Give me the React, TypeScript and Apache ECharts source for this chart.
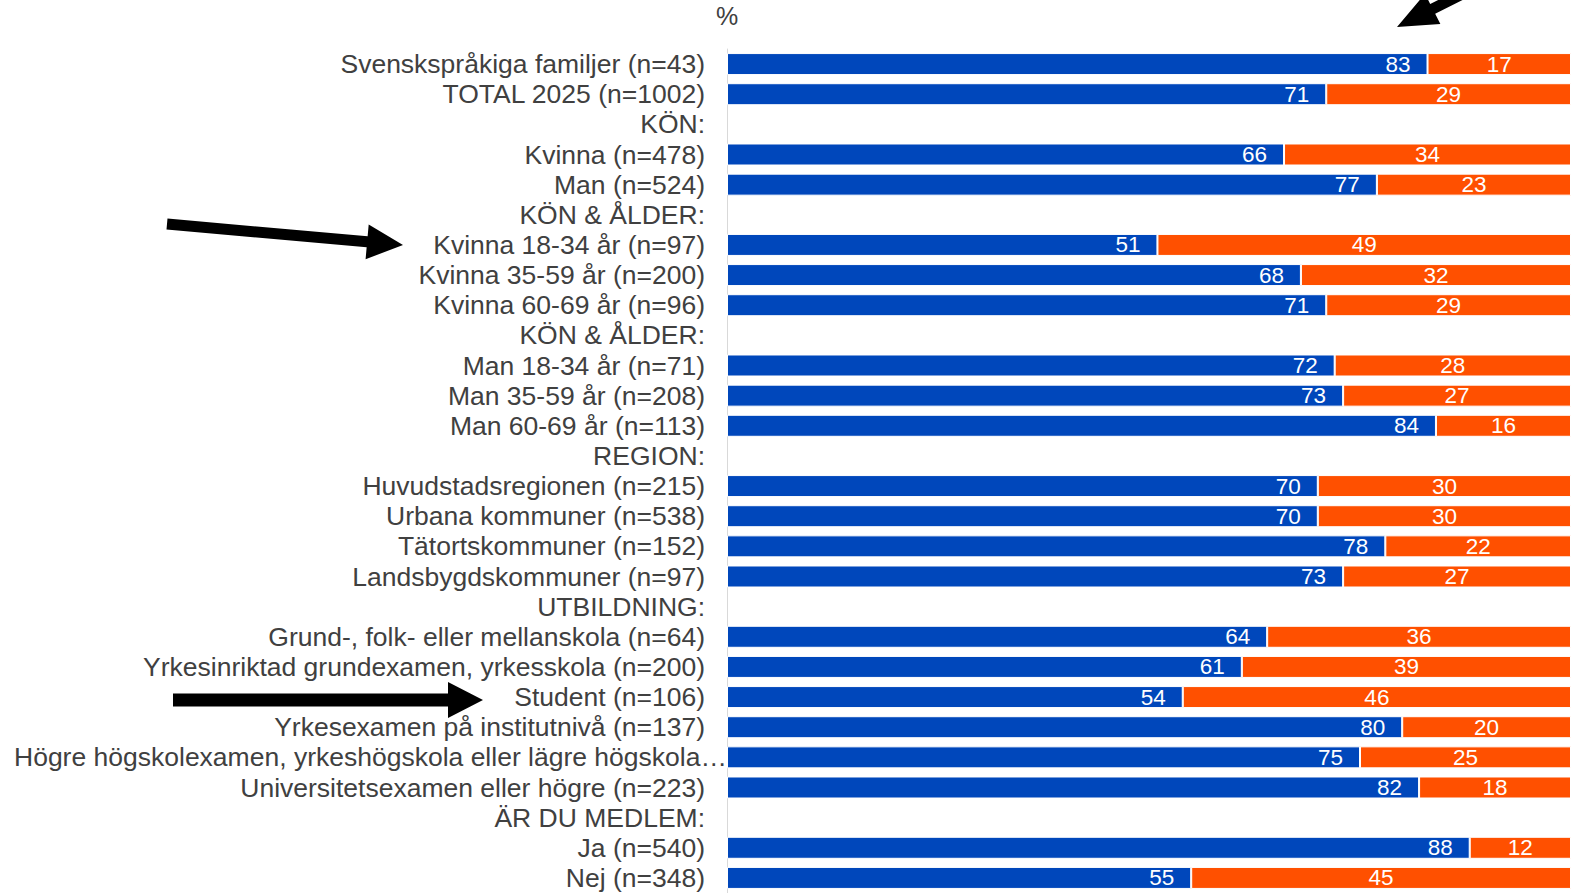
import React, { useEffect, useRef } from "react";
import * as echarts from "echarts";

const categories = [
  "Svenskspråkiga familjer (n=43)",
  "TOTAL 2025 (n=1002)",
  "KÖN:",
  "Kvinna (n=478)",
  "Man (n=524)",
  "KÖN & ÅLDER:",
  "Kvinna 18-34 år (n=97)",
  "Kvinna 35-59 år (n=200)",
  "Kvinna 60-69 år (n=96)",
  "KÖN & ÅLDER:\u200B",
  "Man 18-34 år (n=71)",
  "Man 35-59 år (n=208)",
  "Man 60-69 år (n=113)",
  "REGION:",
  "Huvudstadsregionen (n=215)",
  "Urbana kommuner (n=538)",
  "Tätortskommuner (n=152)",
  "Landsbygdskommuner (n=97)",
  "UTBILDNING:",
  "Grund-, folk- eller mellanskola (n=64)",
  "Yrkesinriktad grundexamen, yrkesskola (n=200)",
  "Student (n=106)",
  "Yrkesexamen på institutnivå (n=137)",
  "Högre högskolexamen, yrkeshögskola eller lägre högskola…",
  "Universitetsexamen eller högre (n=223)",
  "ÄR DU MEDLEM:",
  "Ja (n=540)",
  "Nej (n=348)",
];

const blueValues = [83, 71, null, 66, 77, null, 51, 68, 71, null, 72, 73, 84, null, 70, 70, 78, 73, null, 64, 61, 54, 80, 75, 82, null, 88, 55];
const orangeValues = [17, 29, null, 34, 23, null, 49, 32, 29, null, 28, 27, 16, null, 30, 30, 22, 27, null, 36, 39, 46, 20, 25, 18, null, 12, 45];

const FONT = "'Liberation Sans', Arial, sans-serif";

function arrow(x1: number, y1: number, x2: number, y2: number, shaft: number, headW: number, headL: number) {
  const dx = x2 - x1;
  const dy = y2 - y1;
  const len = Math.sqrt(dx * dx + dy * dy);
  const ux = dx / len;
  const uy = dy / len;
  const px = -uy;
  const py = ux;
  const bx = x2 - ux * headL;
  const by = y2 - uy * headL;
  const s = shaft / 2;
  const h = headW / 2;
  return {
    type: "polygon",
    shape: {
      points: [
        [x1 + px * s, y1 + py * s],
        [bx + px * s, by + py * s],
        [bx + px * h, by + py * h],
        [x2, y2],
        [bx - px * h, by - py * h],
        [bx - px * s, by - py * s],
        [x1 - px * s, y1 - py * s],
      ],
    },
    style: { fill: "#000000" },
    z: 100,
  };
}

export default function App() {
  const ref = useRef<HTMLDivElement>(null);
  useEffect(() => {
    if (!ref.current) return;
    const chart = echarts.init(ref.current, null, { renderer: "svg" });
    const labelCommon = {
      show: true,
      color: "#ffffff",
      fontSize: 22.5,
      fontFamily: FONT,
    };
    chart.setOption({
      animation: false,
      backgroundColor: "#ffffff",
      grid: { left: 727, right: 14, top: 49, bottom: 0, containLabel: false },
      xAxis: {
        type: "value",
        min: 0,
        max: 100,
        show: false,
      },
      yAxis: {
        type: "category",
        data: categories,
        inverse: true,
        axisTick: { show: false },
        axisLine: { show: true, lineStyle: { color: "#d9d9d9", width: 1 } },
        axisLabel: {
          interval: 0,
          hideOverlap: false,
          color: "#404040",
          fontSize: 26.5,
          fontFamily: FONT,
          margin: 22,
          formatter: (v: string) => (v.startsWith("Högre") ? "{long|" + v + "}" : v),
          rich: {
            long: { width: 691, align: "left", color: "#404040", fontSize: 26.5, fontFamily: FONT },
          },
        },
      },
      series: [
        {
          name: "Blå",
          type: "bar",
          stack: "total",
          data: blueValues,
          barCategoryGap: "27%",
          itemStyle: { color: "#0047BB", borderColor: "#ffffff", borderWidth: 1 },
          label: { ...labelCommon, position: "insideRight", distance: 17 },
        },
        {
          name: "Orange",
          type: "bar",
          stack: "total",
          data: orangeValues,
          barCategoryGap: "27%",
          itemStyle: { color: "#FF5000", borderColor: "#ffffff", borderWidth: 1 },
          label: { ...labelCommon, position: "inside" },
        },
      ],
      graphic: [
        {
          type: "text",
          x: 727,
          y: 16,
          style: { text: "%", fontSize: 25, fontFamily: FONT, fill: "#404040", align: "center", verticalAlign: "middle" },
        },
        arrow(167, 224, 403, 245, 11, 35, 36),
        arrow(173, 700, 483, 700, 13, 36, 35),
        arrow(1480, -15, 1397, 27, 11, 34, 40),
      ],
    });
    return () => chart.dispose();
  }, []);
  return (
    <div
      ref={ref}
      style={{ position: "fixed", left: 0, top: 0, width: 1585, height: 893, background: "#fff" }}
    />
  );
}
